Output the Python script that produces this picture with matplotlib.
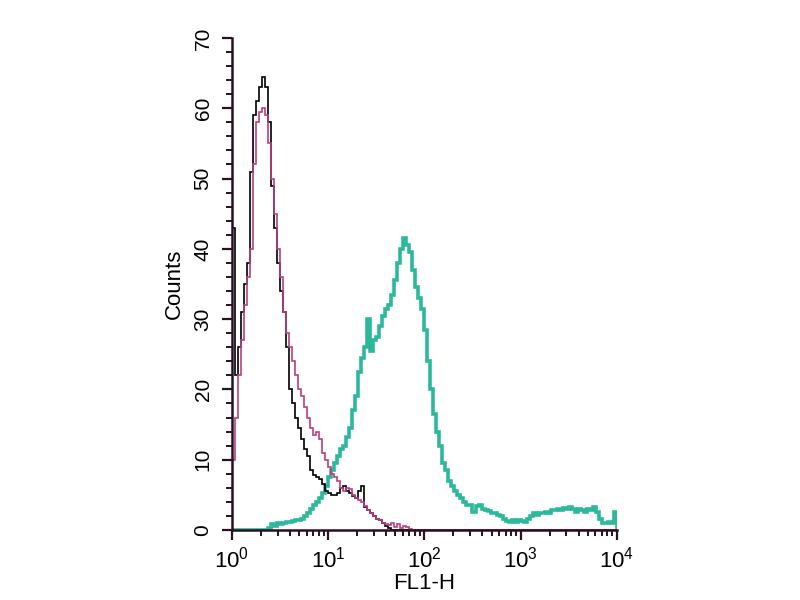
import matplotlib
matplotlib.use("Agg")
import matplotlib.pyplot as plt
from matplotlib.ticker import MultipleLocator, LogLocator, LogFormatterMathtext
import numpy as np

plt.rcParams['font.family'] = ['Liberation Sans Narrow', 'Liberation Sans', 'DejaVu Sans']
plt.rcParams['mathtext.default'] = 'regular'

# histogram channels: 32 bins per decade, 10^0 .. 10^4
bins_per_decade = 32
n_bins = 4 * bins_per_decade
edges = 10 ** (np.arange(n_bins + 1) / bins_per_decade)

# black (control) counts per bin, zero afterwards
black = [43, 22, 26, 31, 35, 38, 51, 59, 61, 63, 64.5, 63, 58, 49, 43, 38,
         34, 31, 26, 20, 18, 16, 14.5, 13, 11.5, 10.5, 8.5, 7.8, 7.5, 7.2, 6.5, 5.5,
         5.2, 5.0, 5.0, 5.2, 6.0, 6.2, 5.6, 5.2, 4.8, 4.5, 5.5, 6.2, 3.2, 2.8, 2.4, 2.0,
         1.6, 1.4, 1.0, 0.6, 0.3]

# magenta (isotype) counts per bin, zero afterwards
magenta = [10, 16, 22, 27, 32, 36, 40, 52, 58, 59.5, 60, 59, 55, 50, 45, 40,
           36, 31, 28, 26, 24, 22, 20, 19, 17.5, 16, 14.5, 13.5, 14, 13, 11, 10,
           9, 8, 7.5, 7.0, 6.0, 5.5, 6.0, 5.8, 5.0, 4.6, 4.3, 4.0, 3.4, 2.8, 2.4, 2.0,
           1.6, 1.4, 1.0, 0.8, 0.7, 1.0, 0.4, 0.8, 0.3, 0.6, 0.4, 0.1]

# teal (stained) counts per bin
teal = [0] * 12 + [
    0.3, 0.8, 0.6, 1.0, 0.8, 1.0, 1.2, 1.2, 1.3, 1.4, 1.4, 1.6, 2.0, 2.4, 3.0, 3.6,
    4.0, 4.6, 5.3, 6.2, 7.5, 8.5, 9.5, 10.5, 11.5, 12.0, 13.2, 14.5, 17, 19, 22.5, 24.5,
    26, 30, 25.5, 27, 27.5, 29, 30.5, 31.5, 32, 33.5, 35.5, 38, 40, 41.5, 40.5, 39.5,
    37, 34.5, 33, 31.5, 28.5, 24, 20, 16.5, 14, 12, 9.5, 8.5, 7, 6.2, 5.5, 5.0,
    4.5, 4.0, 3.6, 3.5, 2.6, 3.4, 3.6, 3.0, 2.8, 2.7, 2.4, 2.4, 2.2, 2.0, 1.5, 1.3,
    1.2, 1.4, 1.2, 1.4, 1.3, 1.2, 1.6, 2.0, 2.4, 2.2, 2.4, 2.4, 2.6, 2.4, 2.8, 2.8,
    3.0, 2.8, 3.1, 3.0, 3.2, 3.0, 2.6, 3.0, 2.8, 2.6, 3.0, 2.8, 3.2, 2.6, 1.5, 1.0,
    1.0, 1.2, 1.0, 2.6]

black = black + [0] * (n_bins - len(black))
magenta = magenta + [0] * (n_bins - len(magenta))

fig = plt.figure(figsize=(8, 6), dpi=100)
ax = fig.add_axes([0.29, 0.1167, 0.481, 0.82])

ax.stairs(teal, edges, color='#2bb89c', linewidth=2.6)
ax.stairs(black, edges, color='#000000', linewidth=1.2)
ax.stairs(magenta, edges, color='#b8407e', linewidth=1.2)

ax.set_xscale('log')
ax.set_xlim(1, 1e4)
ax.set_ylim(0, 70)

ax.yaxis.set_major_locator(MultipleLocator(10))
ax.yaxis.set_minor_locator(MultipleLocator(2))
ax.xaxis.set_major_locator(LogLocator(base=10))
ax.xaxis.set_minor_locator(LogLocator(base=10, subs=np.arange(2, 10)))
ax.xaxis.set_major_formatter(LogFormatterMathtext())

for s in ['top', 'right']:
    ax.spines[s].set_visible(False)
ax.spines['left'].set_color('#2a1020')
ax.spines['bottom'].set_color('#2a1020')
ax.spines['left'].set_linewidth(1.8)
ax.spines['bottom'].set_linewidth(1.8)

ax.tick_params(which='major', direction='out', length=7, width=1.6, color='#2a1020')
ax.tick_params(which='minor', direction='out', length=4, width=1.4, color='#2a1020')
ax.tick_params(axis='x', labelsize=16, pad=5)
ax.tick_params(axis='y', labelsize=15, pad=7)
for lbl in ax.get_yticklabels():
    lbl.set_rotation(90)
    lbl.set_va('center')

ax.set_xlabel('FL1-H', fontsize=16, labelpad=0)
ax.set_ylabel('Counts', fontsize=16, labelpad=6)

fig.savefig('out.png', dpi=100)
